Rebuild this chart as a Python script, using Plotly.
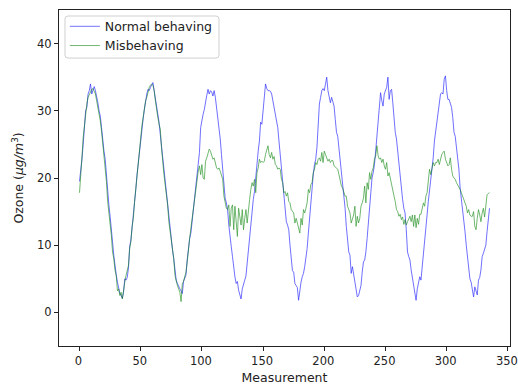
import plotly.graph_objects as go

normal_behaving = [
    19.5, 21.0, 22.8, 25.0, 28.5, 30.0, 30.5, 32.5, 33.0, 34.0, 32.5, 33.2, 33.6, 33.0, 32.2, 31.2,
    30.0, 29.2, 27.5, 25.5, 24.0, 22.8, 20.3, 17.5, 16.0, 14.3, 11.8, 10.5, 8.5, 6.8, 5.6, 4.5,
    3.5, 2.8, 2.5, 2.1, 3.0, 5.0, 4.8, 5.2, 6.6, 9.8, 10.8, 12.5, 14.5, 16.3, 18.3, 20.5,
    22.3, 24.3, 26.2, 27.5, 28.8, 30.2, 31.5, 32.5, 33.2, 33.0, 33.5, 34.0, 34.2, 33.0, 31.8, 30.5,
    29.7, 28.3, 26.5, 24.8, 22.3, 20.8, 19.5, 18.0, 16.3, 14.0, 12.0, 10.8, 9.3, 8.0, 6.5, 4.8,
    4.3, 3.8, 3.5, 3.2, 2.8, 4.6, 5.0, 5.6, 7.8, 9.5, 11.0, 11.8, 13.5, 15.0, 16.5, 18.3,
    20.5, 22.0, 23.8, 27.5, 28.8, 29.5, 30.2, 31.0, 32.3, 33.2, 32.5, 33.0, 32.8, 32.2, 33.0, 32.0,
    30.5, 29.2, 27.5, 25.8, 23.5, 20.8, 19.0, 17.0, 16.3, 15.3, 13.0, 10.8, 9.8, 8.3, 6.5, 5.3,
    4.3, 4.6, 3.3, 2.5, 2.0, 3.5, 4.3, 4.8, 5.4, 7.5, 9.0, 11.5, 13.0, 15.3, 16.8, 18.0,
    20.3, 22.0, 24.0, 25.5, 28.3, 28.0, 30.0, 31.5, 34.0, 33.3, 33.0, 33.0, 32.9, 32.5, 31.5, 30.5,
    29.7, 28.9, 27.5, 25.5, 23.5, 21.0, 19.3, 17.3, 15.2, 13.5, 13.0, 12.3, 10.0, 7.5, 6.2, 6.0,
    4.3, 4.0, 3.7, 1.8, 3.5, 4.5, 5.3, 5.8, 6.8, 8.0, 9.5, 11.8, 14.2, 16.3, 18.3, 20.5,
    22.0, 22.8, 24.5, 28.0, 31.0, 32.0, 33.0, 33.3, 33.0, 34.0, 35.0, 33.0, 32.0, 31.2, 32.0, 31.5,
    30.7, 28.7, 26.8, 26.2, 24.5, 23.0, 21.3, 19.5, 17.5, 15.5, 12.8, 10.5, 9.0, 8.5, 5.8, 6.8,
    5.5, 4.3, 3.0, 2.3, 2.5, 3.3, 4.0, 6.0, 7.5, 7.8, 9.0, 11.0, 13.5, 16.0, 18.0, 20.0,
    20.8, 22.0, 24.0, 26.5, 28.7, 31.0, 32.7, 31.5, 30.7, 32.5, 33.2, 33.5, 35.0, 31.7, 33.0, 33.2,
    31.2, 28.5, 26.8, 25.8, 24.0, 21.5, 20.0, 18.3, 16.8, 15.5, 14.8, 12.3, 9.0, 8.3, 7.8, 6.3,
    5.0, 3.8, 2.8, 1.8, 3.5, 4.3, 5.3, 4.8, 7.0, 8.0, 10.8, 13.3, 14.5, 16.5, 18.0, 19.5,
    21.0, 23.0, 25.5, 26.8, 28.5, 30.0, 31.5, 32.5, 32.7, 32.5, 34.7, 35.2, 33.0, 31.7, 31.7, 31.2,
    30.5, 29.0, 26.8, 26.2, 24.5, 23.0, 21.3, 18.5, 17.0, 15.8, 13.8, 12.0, 10.0, 8.3, 6.0, 5.0,
    4.5, 3.3, 2.3, 3.8, 3.3, 2.6, 4.8, 5.2, 6.3, 8.3, 8.8, 9.5, 10.0, 12.0, 13.5, 15.5,
]

misbehaving = [
    17.8, 21.5, 23.0, 26.0, 28.0, 30.0, 31.0, 32.0, 32.5, 33.0, 33.2, 33.3, 33.0, 32.5, 31.5, 30.5,
    29.8, 28.5, 27.0, 25.3, 23.5, 22.0, 19.5, 16.5, 15.0, 13.0, 11.5, 9.0, 8.0, 6.3, 5.5, 3.2,
    3.5, 2.5, 3.0, 2.0, 3.5, 4.5, 5.5, 6.2, 7.0, 9.5, 10.5, 12.8, 14.0, 16.5, 18.5, 20.0,
    23.0, 24.5, 26.0, 27.8, 29.0, 30.5, 31.5, 32.0, 32.8, 33.5, 33.8, 34.0, 33.8, 33.0, 31.5, 30.0,
    29.0, 28.0, 27.3, 24.5, 22.0, 20.5, 19.0, 17.5, 16.0, 13.5, 12.0, 10.5, 9.0, 8.0, 5.5, 4.5,
    4.0, 3.5, 3.0, 1.6, 4.3, 4.6, 5.5, 6.0, 7.5, 10.0, 11.0, 12.5, 14.0, 15.5, 17.2, 18.8,
    19.8, 21.0, 21.8, 20.5, 22.0, 20.0, 19.8, 22.5, 23.0, 23.5, 24.3, 24.0, 23.5, 22.8, 23.0, 22.2,
    21.5, 21.3, 21.5, 21.0, 20.5, 19.8, 17.3, 16.3, 15.5, 15.3, 16.0, 12.8, 15.5, 16.0, 12.3, 15.8,
    14.0, 11.3, 15.5, 14.5, 13.0, 15.3, 12.3, 14.0, 15.3, 13.3, 15.8, 16.8, 18.3, 19.3, 18.8, 19.8,
    17.8, 20.8, 21.5, 22.8, 22.3, 22.5, 22.3, 22.5, 23.5, 24.3, 24.8, 23.5, 23.0, 23.8, 22.8, 23.2,
    22.0, 21.8, 21.3, 21.5, 21.3, 19.8, 19.3, 17.8, 18.0, 17.3, 17.8, 16.5, 16.3, 15.3, 15.0, 14.8,
    13.3, 14.0, 13.3, 12.5, 11.8, 14.0, 13.0, 15.3, 14.8, 15.5, 16.3, 18.3, 17.8, 19.0, 19.3, 20.8,
    21.3, 22.3, 22.0, 22.8, 23.0, 22.5, 23.8, 22.3, 24.0, 23.5, 22.8, 22.5, 22.8, 22.3, 22.6, 22.6,
    21.8, 21.6, 21.5, 21.3, 20.5, 19.3, 18.8, 18.5, 17.8, 17.3, 17.3, 15.8, 15.3, 14.8, 13.3, 14.0,
    14.5, 15.8, 12.8, 14.3, 13.3, 14.0, 15.8, 16.3, 17.0, 18.8, 16.3, 19.3, 18.3, 20.8, 19.8, 21.0,
    21.5, 22.8, 23.3, 24.8, 23.3, 22.8, 23.0, 22.3, 22.8, 21.8, 21.3, 22.3, 20.3, 20.8, 19.8, 18.8,
    18.3, 17.3, 16.5, 15.3, 15.0, 14.3, 14.6, 13.8, 14.2, 13.1, 13.8, 13.0, 13.5, 14.0, 14.3, 13.5,
    14.5, 12.8, 14.5, 12.6, 14.0, 13.1, 14.6, 14.6, 15.3, 16.3, 15.8, 17.3, 17.8, 20.3, 21.3, 20.5,
    21.3, 22.3, 21.8, 22.3, 22.3, 22.8, 22.0, 22.8, 23.5, 23.8, 24.0, 22.8, 22.3, 21.8, 22.0, 23.0,
    21.3, 20.3, 20.0, 19.8, 19.3, 19.0, 18.8, 18.3, 17.8, 17.3, 16.8, 16.5, 15.8, 14.8, 15.3, 14.5,
    14.3, 14.3, 15.0, 12.8, 12.3, 14.0, 15.3, 14.5, 13.5, 14.8, 15.5, 14.2, 15.5, 17.5, 17.7, 17.8,
]

series_names = ["Normal behaving", "Misbehaving"]
series_colors = ["#0000ff", "#008000"]
x_ticks = [0, 50, 100, 150, 200, 250, 300, 350]
y_ticks = [0, 10, 20, 30, 40]

FS = 12.5
TFS = 11.5

fig = go.Figure()
for name, vals, col in zip(series_names, [normal_behaving, misbehaving], series_colors):
    fig.add_trace(go.Scatter(
        x=list(range(len(vals))), y=vals, mode="lines", name=name,
        line=dict(color=col, width=0.7), opacity=0.8,
    ))

axis_common = dict(
    showline=True, linecolor="#222", linewidth=1, mirror=True,
    ticks="outside", ticklen=4, tickwidth=1, tickcolor="#222",
    showgrid=False, zeroline=False, ticklabeloverflow="allow", automargin=False,
    tickfont=dict(family="DejaVu Sans", size=TFS, color="#222"),
)

# legend frame (rounded), in paper coordinates
x0, x1, y0, y1 = 0.0133, 0.3548, 0.857, 0.9821
rx, ry = 0.0067, 0.009
frame_path = (
    f"M {x0+rx},{y1} L {x1-rx},{y1} Q {x1},{y1} {x1},{y1-ry} "
    f"L {x1},{y0+ry} Q {x1},{y0} {x1-rx},{y0} "
    f"L {x0+rx},{y0} Q {x0},{y0} {x0},{y0+ry} "
    f"L {x0},{y1-ry} Q {x0},{y1} {x0+rx},{y1} Z"
)

fig.update_layout(
    width=518, height=385,
    margin=dict(l=59, r=8, t=10, b=39),
    plot_bgcolor="white", paper_bgcolor="white",
    font=dict(family="DejaVu Sans", size=FS, color="#222"),
    xaxis=dict(range=[-16.75, 351.75], tickvals=x_ticks, ticklabelshift=-1,
               title=dict(text="Measurement", standoff=6, font=dict(size=FS)),
               **axis_common),
    yaxis=dict(range=[-5, 45], tickvals=y_ticks,
               title=dict(text="Ozone (<i>μg/m</i><sup>3</sup>)", standoff=10, font=dict(size=FS)),
               **axis_common),
    shapes=[dict(type="path", xref="paper", yref="paper", path=frame_path,
                 line=dict(color="#d0d0d0", width=1),
                 fillcolor="rgba(255,255,255,0.8)", layer="above")],
    legend=dict(x=0.013, y=0.995, xanchor="left", yanchor="top",
                bgcolor="rgba(0,0,0,0)", borderwidth=0,
                font=dict(family="DejaVu Sans", size=FS, color="#222"),
                itemwidth=30, tracegroupgap=0),
    showlegend=True,
)

fig.write_html("out.html")
